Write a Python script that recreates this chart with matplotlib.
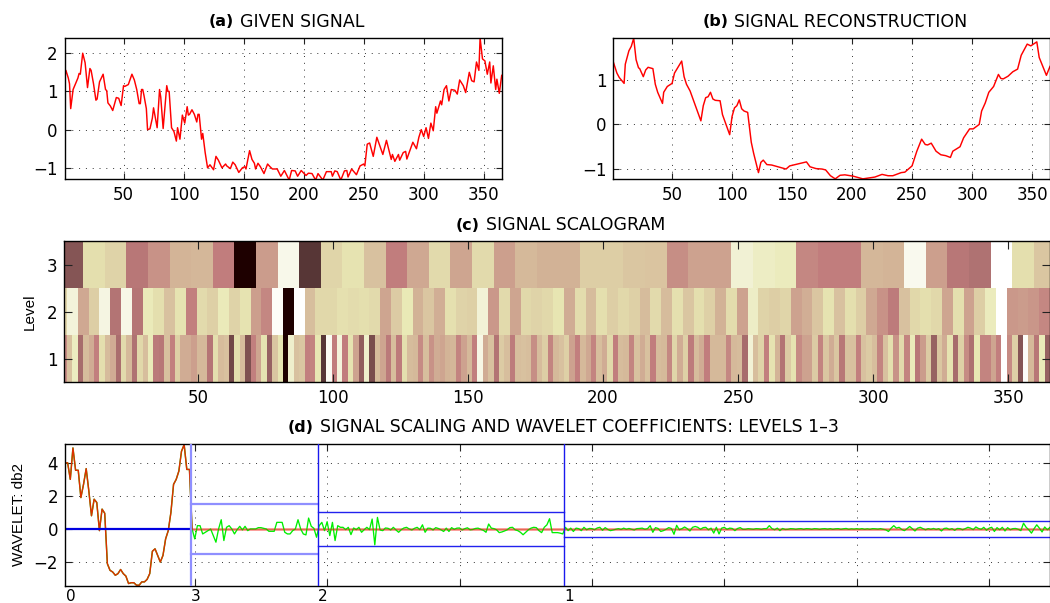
import numpy as np
import matplotlib
matplotlib.use("Agg")
import matplotlib.pyplot as plt

plt.rcParams['font.family'] = ['DejaVu Sans']

# (a) given signal
days_a = [1,2,4,5,6,8,10,12,13,14,16,18,20,22,23,25,27,28,30,33,35,36,37,39,41,44,46,48,50,51,54,57,59,61,63,64,65,66,67,69,70,72,74,75,76,78,80,81,83,86,87,88,90,92,94,95,97,99,101,103,104,105,107,109,111,112,113,115,116,118,120,122,125,127,129,132,135,136,139,141,143,146,149,151,152,155,157,159,160,162,164,167,170,172,174,178,181,184,188,190,193,195,198,202,204,207,210,212,216,219,223,224,226,228,231,234,236,237,240,244,247,250,251,253,255,258,261,266,269,273,274,276,279,280,283,285,286,291,294,296,298,300,302,304,306,308,310,311,314,315,317,319,321,323,326,328,330,333,335,338,340,342,344,346,347,349,351,353,355,356,358,360,361,363,365]
signal_a = [1.35,1.55,1.35,1.2,0.55,1.05,1.2,1.35,1.47,1.45,2.0,1.75,1.1,1.6,1.55,1.2,0.77,0.8,1.25,1.45,1.05,1.02,0.7,0.62,0.5,0.84,0.82,0.63,1.15,1.13,1.18,1.45,1.3,1.05,0.68,0.68,1.05,1.05,0.9,0.55,0.0,0.02,0.3,0.57,0.4,0.05,1.05,0.85,0.03,1.15,1.0,1.0,0.05,-0.05,-0.3,0.05,-0.25,0.38,0.17,0.6,0.38,0.4,0.52,0.4,0.2,0.4,0.4,-0.25,-0.1,-0.6,-1.0,-0.92,-1.05,-0.7,-0.8,-1.0,-0.9,-0.95,-1.02,-0.85,-0.92,-1.12,-1.0,-0.97,-1.03,-0.55,-0.78,-0.88,-1.03,-0.88,-0.97,-1.15,-0.9,-0.97,-1.03,-1.03,-1.22,-1.07,-1.32,-1.07,-1.08,-1.22,-1.07,-1.2,-1.14,-1.15,-1.32,-1.15,-1.32,-1.1,-1.1,-1.22,-1.08,-1.1,-1.32,-1.08,-1.07,-1.24,-1.03,-1.18,-0.95,-0.9,-0.95,-0.38,-0.35,-0.7,-0.2,-0.65,-0.28,-0.78,-0.65,-0.83,-0.65,-0.8,-0.6,-0.57,-0.77,-0.33,-0.5,-0.2,0.0,-0.18,0.05,-0.23,0.17,-0.03,0.6,0.43,0.75,0.65,1.05,1.15,0.75,1.05,1.03,0.93,1.3,1.15,0.97,1.5,1.28,1.25,1.77,1.55,2.4,1.85,1.8,1.45,1.77,1.22,1.67,1.05,1.32,0.95,1.42]

# (b) reconstruction
days_b = [1,4,6,10,11,14,16,18,20,22,23,26,28,30,34,36,38,42,43,46,50,52,58,60,62,65,74,76,78,80,82,84,86,90,92,98,100,102,104,106,108,110,113,116,118,122,124,126,129,133,145,148,162,165,170,175,178,182,186,190,194,201,209,219,225,230,234,241,244,250,254,258,261,263,266,270,274,278,282,284,290,293,298,301,306,308,311,314,318,322,324,326,330,334,338,341,346,349,354,356,359,362,365]
signal_b = [1.4,1.15,1.05,0.92,1.35,1.65,1.75,1.93,1.45,1.27,1.25,1.07,1.22,1.28,1.25,0.9,0.72,0.47,0.72,0.85,0.92,1.15,1.42,1.07,0.9,0.75,0.08,0.42,0.6,0.62,0.72,0.57,0.54,0.53,0.22,-0.23,0.18,0.37,0.42,0.55,0.35,0.3,0.27,-0.4,-0.65,-1.08,-0.85,-0.8,-0.9,-0.91,-1.0,-0.93,-0.84,-0.95,-0.99,-1.0,-1.02,-1.15,-1.22,-1.14,-1.13,-1.16,-1.22,-1.18,-1.12,-1.15,-1.15,-1.08,-1.07,-0.93,-0.6,-0.33,-0.45,-0.46,-0.42,-0.6,-0.68,-0.7,-0.74,-0.6,-0.5,-0.3,-0.1,-0.1,0.0,0.3,0.48,0.72,0.85,1.12,1.03,1.02,1.08,1.18,1.24,1.55,1.8,1.76,1.85,1.5,1.3,1.1,1.3]

# (c) scalogram cells, as positions in the pink colormap
scal_3 = [.17,.7,.65,.33,.42,.53,.54,.36,.0,.45,.92,.07,.66,.72,.58,.36,.49,.68,.48,.68,.46,.55,.52,.52,.63,.63,.6,.59,.41,.47,.47,.84,.79,.77,.39,.36,.36,.54,.53,.93,.46,.33,.3,1.0,.7,.6]
scal_2 = [.65,.86,.49,.63,.89,.31,.91,.32,.76,.7,.58,.72,.37,.68,.64,.76,.65,.72,.46,.39,.97,.0,1.0,.57,.67,.67,.71,.69,.7,.68,.48,.62,.75,.52,.6,.51,.71,.65,.64,.85,.44,.68,.48,.67,.65,.67,.73,.5,.69,.56,.7,.63,.67,.64,.56,.68,.56,.71,.6,.7,.64,.52,.69,.47,.8,.65,.63,.66,.47,.51,.6,.72,.58,.7,.63,.49,.42,.35,.58,.67,.7,.67,.48,.7,.47,.63,.77,1.0,.44,.45,.43,.39]
scal_1 = [.4,.58,.78,.27,.56,.5,.37,.7,.56,.5,.28,.68,.55,.3,.67,.57,.76,.34,.33,.58,.37,.64,.5,.5,.46,.55,.55,.32,.7,.56,.58,.12,.7,.56,.15,.37,.48,.72,.22,.6,.73,.0,.82,.58,.6,.37,
          .38,.74,.07,.95,.36,.87,.36,.72,.47,.2,.82,.14,.56,.48,.34,.57,.35,.7,.56,.55,.4,.57,.42,.5,.48,.53,.54,.38,.47,.55,.37,.9,.5,.58,.31,.62,.57,.35,.57,.58,.57,.41,.56,.63,.38,.55,
          .58,.64,.47,.37,.55,.49,.38,.57,.5,.67,.36,.56,.55,.38,.58,.5,.58,.36,.56,.55,.39,.66,.5,.64,.35,.56,.5,.36,.55,.55,.55,.39,.55,.56,.27,.85,.57,.65,.37,.72,.53,.31,.62,.72,.4,.47,
          .47,.62,.38,.6,.5,.6,.33,.58,.58,.37,.58,.62,.57,.38,.58,.7,.42,.68,.38,.76,.33,.45,.62,.22,.6,.5,.72,.27,.64,.4,.29,.74,.38,.38,.48,.37,1.0,.4,.64,.17,.97,.55,.33,.76,.22]

# (d) scaling coefficients then wavelet coefficients for levels 3, 2, 1
scaling_3 = [4.0,4.0,3.0,4.9,3.55,3.55,1.9,2.7,3.65,2.3,0.8,1.8,1.6,-0.1,1.2,0.95,-2.1,-2.5,-2.6,-2.8,-2.7,-2.45,-2.7,-2.85,-3.3,-3.25,-3.25,-3.4,-3.4,-3.2,-3.2,-3.05,-2.7,-1.35,-1.2,-1.6,-2.0,-1.6,-0.6,-0.1,1.0,2.7,3.0,3.5,4.7,5.1,3.6,3.6]
wave_3 = [0,-.6,.2,.2,-.3,-.2,-.1,0,-.4,-.8,0,.56,-.7,.1,.2,0,-.3,-.04,.16,-.06,.16,-.1,0,0,0,.08,.08,.04,0,-.14,-.14,-.14,.4,.4,.4,-.2,-.3,-.3,-.1,0,.56,0,-.3,-.36,.66,.16,.04,-.5]
wave_2 = [.2,.4,-.1,.44,-.4,.4,-.7,.2,.1,.1,
          -.04,.1,-.34,.06,-.04,.1,-.2,-.04,.1,-.04,
          .6,-.96,.7,-.06,-.1,.06,.04,-.06,.1,-.06,
          -.2,-.04,.06,.1,0,-.06,.04,.1,-.04,.25,
          -.2,.05,.04,-.06,.08,.03,-.05,-.15,.05,-.15,
          .08,-.02,.05,.06,-.06,.02,.07,-.05,-.03,.03,
          .05,-.02,-.08,-.2,.3,.05,.02,-.05,-.22,-.18,
          -.12,-.05,.08,.1,-.05,-.1,-.2,-.35,-.2,-.05,
          .05,.1,.08,-.1,-.22,.1,.25,.62,-.22,-.22,-.22,-.25,-.3]
wave_1 = [.1,-.1,.05,-.15,.05,.02,-.1,.1,-.05,.03,
          .02,-.05,.06,.1,-.08,.08,-.03,-.1,-.06,-.02,
          .02,-.03,.05,-.02,.03,-.02,-.06,.02,.03,.05,
          -.02,.02,.2,-.2,.08,.03,-.15,-.1,-.02,.08,
          .03,-.32,.22,-.05,.02,.12,.02,-.12,.1,.15,
          .1,-.02,.08,.1,-.05,.05,-.25,.1,-.3,.05,
          .1,-.02,.05,.03,-.1,.03,.08,-.02,-.02,.02,
          0,-.02,.02,.01,-.02,.02,.02,.2,.02,-.05,
          .05,-.1,.03,-.03,-.02,.02,.01,-.02,.01,.02,
          -.02,.02,.01,-.02,.02,.01,-.02,.01,.02,-.01,
          .02,-.02,.01,.02,-.02,.01,.03,-.02,.01,-.01,
          .02,-.01,.02,-.02,.01,-.02,.02,.01,-.01,.02,
          -.02,-.05,-.15,.05,.2,.05,.1,-.03,-.1,.02,
          .15,.02,-.12,.05,.1,.02,-.05,.02,-.02,.03,
          -.03,.02,-.12,.03,.05,-.03,.02,-.08,.03,.02,
          -.05,.02,.1,.05,-.04,.12,.03,-.02,.1,-.08,
          .05,.1,-.15,.08,-.05,.1,-.12,.08,-.05,.02,
          .03,-.02,-.1,.35,.1,-.05,-.25,.02,.25,.05,-.18,.12,-.05,.1]
thresholds = [1.5, 1.0, 0.5]
level_names = ['3', '2', '1']

W, H = 1050, 603
TICK_SIZE = 12
TITLE_SIZE = 12.5

fig = plt.figure(figsize=(W/100, H/100), dpi=100)


def make_axes(left, top, right, bottom):
    # box given in picture pixels
    return fig.add_axes([left/W, 1-bottom/H, (right-left)/W, (bottom-top)/H])


def style(ax, ticklen=4, grid=True):
    ax.tick_params(direction='in', top=True, right=True, length=ticklen, width=0.8,
                   labelsize=TICK_SIZE, color='#222222', pad=5)
    for s in ax.spines.values():
        s.set_linewidth(1.0)
    if grid:
        ax.grid(True, color='#333333', linewidth=0.7, linestyle=(0, (1, 6)))
        ax.set_axisbelow(True)


def panel_title(x0, x1, y, tag, name):
    # bold tag and plain name side by side, the pair centred on the reference span
    t1 = fig.text(0, 1-y/H, tag, ha='left', va='center', fontsize=TITLE_SIZE-1, fontweight='bold')
    t2 = fig.text(0, 1-y/H, name, ha='left', va='center', fontsize=TITLE_SIZE)
    r = fig.canvas.get_renderer()
    w1 = t1.get_window_extent(r).width
    w2 = t2.get_window_extent(r).width
    start = (x0+x1)/2 - (w1+6+w2)/2
    t1.set_x(start/W)
    t2.set_x((start+w1+6)/W)


# (a)
ax = make_axes(64.7, 38.3, 501.7, 179.3)
ax.plot(days_a, signal_a, color='red', lw=1.05)
ax.set_xlim(1, 365)
ax.set_ylim(-1.3, 2.39)
ax.set_xticks(range(50, 351, 50))
ax.set_yticks([-1, 0, 1, 2])
style(ax)
panel_title(206, 367, 22, '(a)', 'GIVEN SIGNAL')

# (b)
ax = make_axes(613.3, 38.3, 1050, 179.3)
ax.plot(days_b, signal_b, color='red', lw=1.05)
ax.set_xlim(1, 365)
ax.set_ylim(-1.23, 1.93)
ax.set_xticks(range(50, 351, 50))
ax.set_yticks([-1, 0, 1])
style(ax)
panel_title(694, 976, 22, '(b)', 'SIGNAL RECONSTRUCTION')

# (c)
ax = make_axes(64.3, 241.3, 1050, 382.3)
for level, vals, width in [(3, scal_3, 8), (2, scal_2, 4), (1, scal_1, 2)]:
    vals = np.array(vals)
    first = 7 if level == 3 else 1
    edges = 0.5 + np.concatenate(([0], first + width*np.arange(len(vals))))
    edges = np.minimum(edges, 365.5)
    ax.pcolormesh(edges, [level-0.5, level+0.5], vals[None, :], cmap='pink',
                  vmin=0, vmax=1, linewidth=0, rasterized=True)
ax.set_xlim(0.5, 365.5)
ax.set_ylim(0.5, 3.5)
ax.set_xticks(range(50, 351, 50))
ax.set_yticks([1, 2, 3])
style(ax, ticklen=6, grid=False)
ax.set_ylabel('Level', fontsize=11, family='Liberation Sans', va='center')
ax.yaxis.set_label_coords((29.5-64.3)/985.7, 0.5)
panel_title(448, 673, 225, '(c)', 'SIGNAL SCALOGRAM')

# (d)
ax = make_axes(65, 444.3, 1050, 585.7)
bands = [scaling_3, wave_3, wave_2, wave_1]
lens = [len(b) for b in bands]
starts = np.cumsum([0] + lens)
coefs = np.concatenate(bands)
idx = np.arange(1, len(coefs)+1)
recon = np.concatenate((scaling_3, np.zeros(len(coefs)-len(scaling_3))))
n_scal = lens[0]

ax.plot(idx[n_scal:], recon[n_scal:], color='#ff9a9a', lw=2)
ax.plot(idx, coefs, color='#00ee00', lw=0.95)
ax.plot(idx[n_scal:], recon[n_scal:], color='#c03000', lw=0.9, alpha=0.45)
ax.plot(idx[:n_scal+1], recon[:n_scal+1], color='#dc3000', lw=1.05)
ax.plot([1, starts[1]+0.5], [0, 0], color='#0000e0', lw=1.6)
for i, th in enumerate(thresholds):
    x0 = starts[i+1]+0.5
    x1 = starts[i+2]+0.5
    col = '#8f8fff' if i == 0 else '#2222ee'
    lw = 1.6 if i == 0 else 1.0
    ax.plot([x0, x1], [th, th], color=col, lw=lw)
    ax.plot([x0, x1], [-th, -th], color=col, lw=lw)
    ax.axvline(x0, color=col if i == 0 else '#1a1aee', lw=lw, zorder=3)
ax.set_xlim(1, len(coefs))
ax.set_ylim(-3.43, 5.12)
ax.set_xticks(range(50, 351, 50))
ax.set_xticklabels([])
ax.set_yticks([-2, 0, 2, 4])
style(ax, ticklen=5)
ax.set_ylabel('WAVELET: db2', fontsize=11, family='Liberation Sans', va='center')
ax.yaxis.set_label_coords((19-65)/985, 0.5)
tr = ax.get_xaxis_transform()
LABEL_Y = -(596.5-585.7)/141.4
ax.text(1.3, LABEL_Y, '0', transform=tr, ha='left', va='center', fontsize=TICK_SIZE-1, clip_on=False)
for i, name in enumerate(level_names):
    ax.text(starts[i+1]+0.5, LABEL_Y, name, transform=tr, ha='left', va='center',
            fontsize=TICK_SIZE-1, clip_on=False)
panel_title(266, 860, 427.5, '(d)', 'SIGNAL SCALING AND WAVELET COEFFICIENTS: LEVELS 1\u20133')

fig.savefig('out.png', dpi=100)
